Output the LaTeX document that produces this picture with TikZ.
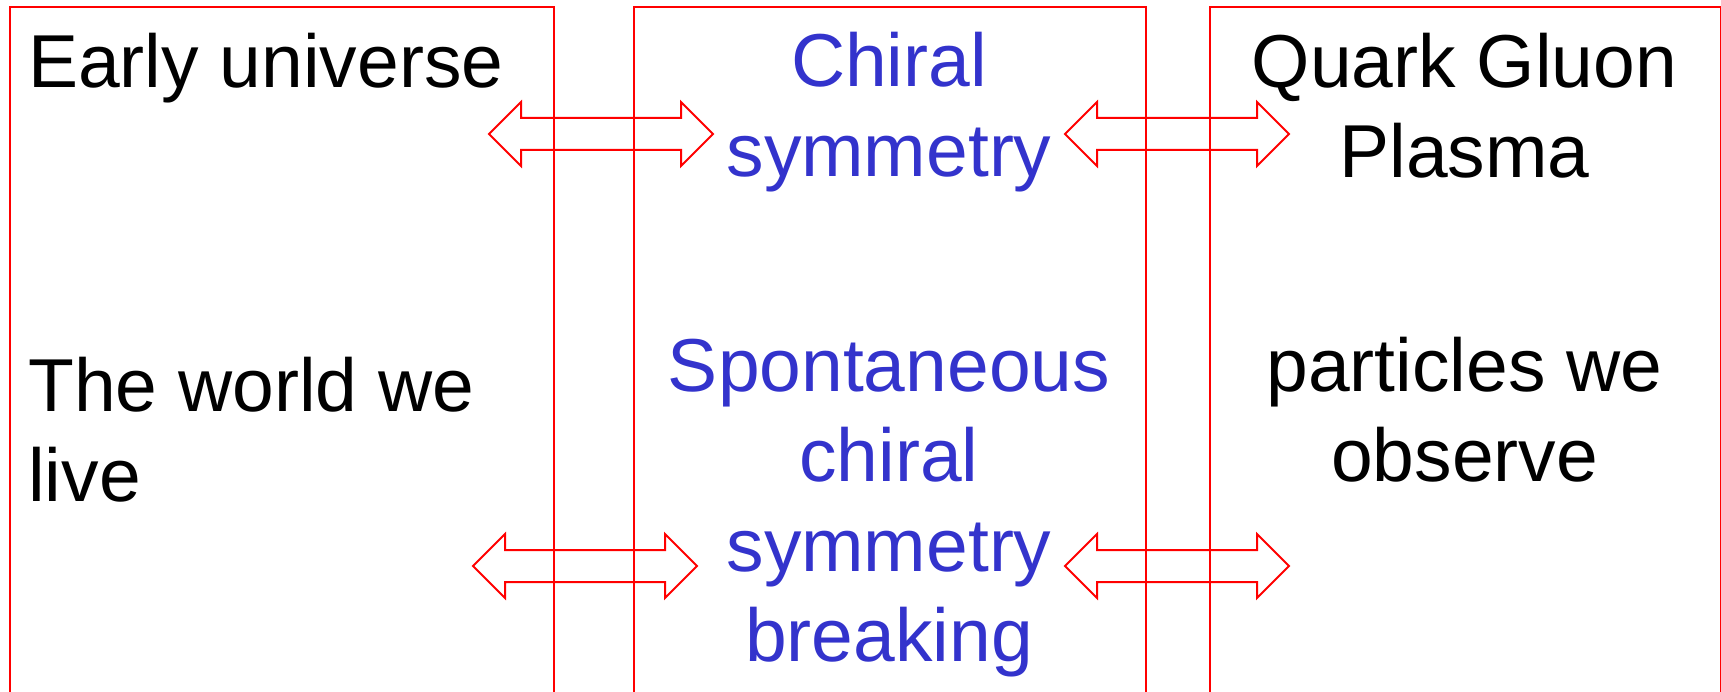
\documentclass[tikz,border=0pt]{standalone}
\usepackage{fontspec}
\setmainfont{Liberation Sans}
\definecolor{frame}{RGB}{255,0,0}
\definecolor{chiralblue}{RGB}{51,51,204}
\tikzset{
  panel/.style={draw=frame, line width=2pt, rectangle, inner sep=0pt, anchor=north west},
  label/.style={inner sep=0pt, font=\fontsize{75}{90}\selectfont, text=black},
  % multi-line labels are placed by the baseline of their last line
  sidelabel/.style={label, align=left, anchor=base west},
  midlabel/.style={label, align=center, anchor=base},
  bluelabel/.style={midlabel, text=chiralblue},
  arrowline/.style={draw=frame, line width=2pt, line join=miter},
  pics/dblarrow/.style={code={
    \draw[arrowline] (0,0) -- (32,-32) -- (32,-16) -- (192,-16) -- (192,-32)
      -- (224,0) -- (192,32) -- (192,16) -- (32,16) -- (32,32) -- cycle;
  }}
}
\begin{document}
\begin{tikzpicture}[x=1pt, y=-1pt]
  \useasboundingbox (0,0) rectangle (1721,692);
  \clip (0,0) rectangle (1721,692);

  % three open-bottom panels
  \node[panel, minimum width=544pt, minimum height=760pt] (early) at (9,6) {};
  \node[panel, minimum width=512pt, minimum height=760pt] (chiral) at (633,6) {};
  \node[panel, minimum width=511pt, minimum height=760pt] (qgp) at (1209,6) {};

  % left column
  \node[sidelabel] (eu) at (28,88) {Early universe};
  \node[sidelabel] (world) at (28,501) {The world we\\live};

  % middle column
  \node[bluelabel] (sym) at (889,177) {Chiral\\symmetry};
  \node[bluelabel] (ssb) at (889,661) {Spontaneous\\chiral\\symmetry\\breaking};

  % right column
  \node[midlabel] (plasma) at (1464.5,178) {Quark Gluon\\Plasma};
  \node[midlabel] (obs) at (1464.5,481) {particles we\\observe};

  % correspondences
  \pic at (489,134) {dblarrow};
  \pic at (1065,134) {dblarrow};
  \pic at (473,566) {dblarrow};
  \pic at (1065,566) {dblarrow};
\end{tikzpicture}
\end{document}
